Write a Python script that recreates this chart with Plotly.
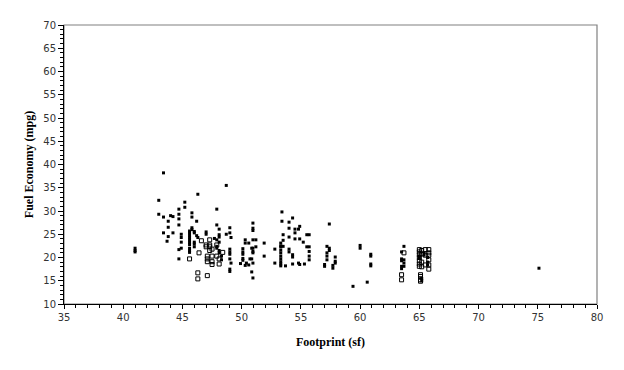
import plotly.graph_objects as go

# Filled markers (black squares)
filled_x = [41.0, 41.0, 41.0,
            43.0, 43.0,
            43.4, 43.4, 43.4,
            43.8, 43.8, 43.8, 43.7,
            44.0, 44.2, 44.2,
            44.7, 44.7, 44.7, 44.7, 44.7, 44.7,
            44.9, 44.9, 44.9, 44.9,
            45.2, 45.2,
            45.6, 45.6, 45.6, 45.6, 45.6, 45.6, 45.6, 45.6, 45.6, 45.6,
            45.8, 45.8, 45.8, 45.8,
            46.0, 46.0, 46.0, 46.0, 46.0,
            46.2, 46.2, 46.3, 46.3,
            47.0, 47.0,
            47.9, 47.9, 47.9, 47.9, 47.9,
            48.1, 48.1, 48.1, 48.1, 48.1, 48.1,
            47.7, 48.3, 48.3,
            48.7, 48.7,
            49.0, 49.0, 49.0, 49.0, 49.0, 49.0, 49.0, 49.0,
            49.1, 49.1,
            49.9,
            50.1, 50.1, 50.1, 50.1, 50.1,
            50.3, 50.3, 50.3,
            50.4,
            50.6, 50.6,
            50.7,
            50.85, 50.85, 50.85,
            50.95, 50.95, 50.95, 50.95, 50.95, 50.95, 50.95, 50.95, 50.95,
            51.2, 51.2,
            51.9, 51.9,
            52.8, 52.8,
            53.3, 53.3, 53.3, 53.3, 53.3, 53.3, 53.3, 53.3, 53.3, 53.3,
            53.4, 53.4,
            53.5, 53.5, 53.5,
            53.7,
            54.0, 54.0, 54.0, 54.0, 54.0,
            54.3, 54.3, 54.3, 54.3,
            54.5, 54.5, 54.5,
            54.8, 54.8,
            54.9, 54.9, 54.9,
            55.2, 55.3,
            55.5, 55.5,
            55.7, 55.7, 55.7, 55.7, 55.7,
            57.0, 57.0,
            57.2, 57.2, 57.2, 57.2,
            57.4, 57.4, 57.4,
            57.7, 57.7,
            57.9, 57.9, 57.9,
            59.4,
            60.0, 60.0,
            60.6,
            60.9, 60.9, 60.9, 60.9,
            63.5, 63.5, 63.5, 63.5, 63.5,
            63.7, 63.7, 63.7, 63.7,
            65.0, 65.0,
            65.2, 65.2,
            65.4, 65.4,
            65.7, 65.7, 65.7,
            75.1]
filled_y = [22.0, 21.5, 21.2,
            32.3, 29.3,
            38.2, 28.7, 25.3,
            27.8, 26.5, 24.5, 23.5,
            29.0, 28.8, 25.3,
            30.4, 29.3, 28.3, 27.0, 21.7, 19.7,
            25.0, 24.3, 23.3, 22.0,
            31.9, 30.8,
            25.7, 25.3, 24.8, 24.3, 23.8, 23.3, 22.8, 22.0, 21.5, 21.1,
            29.6, 28.7, 26.4, 26.0,
            25.6, 25.3, 23.3, 22.9, 22.3,
            24.7, 27.8, 24.3, 33.6,
            25.5, 25.0,
            30.4, 27.0, 23.8, 22.4, 22.0,
            26.1, 24.9, 24.4, 23.3, 21.5, 21.0,
            24.1, 20.3, 19.5,
            35.5, 25.0,
            26.4, 25.3, 21.8, 21.2, 20.7, 19.7, 17.5, 17.0,
            24.3, 18.8,
            18.7,
            21.9, 21.2, 20.7, 19.8, 19.4,
            23.8, 23.1, 18.3,
            18.8,
            23.1, 18.4,
            19.7,
            16.9, 19.7, 22.0,
            27.4, 26.3, 25.8, 23.8, 22.0, 21.3, 21.0, 18.8, 15.6,
            23.8, 22.3,
            23.1, 20.3,
            21.8, 18.8,
            23.1, 22.5, 22.3, 21.6, 21.0, 20.3, 19.7, 19.1, 18.6, 18.2,
            29.8, 27.8,
            24.9, 23.7, 22.4,
            18.2,
            27.6, 26.3, 24.4, 21.8, 21.2,
            28.5, 20.6, 20.1, 18.6,
            26.1, 25.3, 24.0,
            26.1, 18.8,
            26.7, 24.0, 18.5,
            23.3, 18.6,
            24.9, 22.3,
            24.9, 22.3, 21.3, 20.3, 19.5,
            18.5, 18.1,
            22.4, 21.0, 20.3, 19.5,
            27.2, 22.0, 21.5,
            18.3, 17.7,
            20.1, 19.2, 18.8,
            13.8,
            22.6, 22.0,
            14.7,
            20.7, 20.3, 18.6, 18.2,
            21.2, 19.7, 19.3, 18.1, 17.6,
            22.4, 19.5, 18.8, 18.1,
            20.3, 20.0,
            15.5, 15.0,
            20.5, 21.0,
            19.0, 18.4, 20.0,
            17.7]

# Hollow markers (open squares)
hollow_x = [45.6,
            46.3, 46.3, 46.4, 46.6,
            47.0, 47.0,
            47.1, 47.1, 47.1, 47.1,
            47.3, 47.3, 47.3, 47.3,
            47.5, 47.5, 47.5, 47.5,
            47.9, 47.9,
            48.1, 48.1,
            48.4,
            63.5, 63.5, 63.7,
            65.0, 65.0, 65.0, 65.0, 65.0, 65.0, 65.0,
            65.1, 65.1, 65.1, 65.1,
            65.2, 65.2, 65.2, 65.2,
            65.5, 65.5, 65.5,
            65.8, 65.8, 65.8, 65.8, 65.8, 65.8]
hollow_y = [19.7,
            16.7, 15.4, 21.0, 23.6,
            22.7, 22.3,
            16.1, 20.3, 19.7, 19.1,
            23.8, 22.7, 22.3, 21.5,
            21.8, 20.3, 19.1, 18.5,
            22.7, 20.3,
            19.7, 18.6,
            21.1,
            16.3, 15.2, 21.0,
            21.7, 21.2, 20.6, 20.0, 19.3, 18.6, 18.1,
            16.3, 15.9, 15.2, 14.9,
            21.5, 20.8, 18.0, 19.0,
            21.7, 20.5, 18.4,
            21.7, 21.0, 20.5, 19.5, 18.4, 17.5]

x_title = "Footprint (sf)"
y_title = "Fuel Economy (mpg)"

fig = go.Figure()
fig.add_trace(go.Scatter(x=filled_x, y=filled_y, mode="markers",
                         marker=dict(symbol="square", size=3, color="black",
                                     line=dict(width=0)),
                         showlegend=False))
fig.add_trace(go.Scatter(x=hollow_x, y=hollow_y, mode="markers",
                         marker=dict(symbol="square-open", size=4, color="black",
                                     line=dict(width=1)),
                         showlegend=False))

tickfont = dict(family="DejaVu Sans", size=10, color="#333333")
titlefont = dict(family="Liberation Serif", size=12, color="black", weight="bold")

fig.update_layout(
    width=624, height=370,
    margin=dict(l=56, r=35, t=17, b=74),
    paper_bgcolor="white", plot_bgcolor="white",
    shapes=[dict(type="rect", xref="paper", yref="paper", x0=0, y0=0, x1=1, y1=1,
                 line=dict(color="#808080", width=1.2), layer="below")],
)
fig.update_xaxes(range=[35, 80], dtick=5, tick0=35, showgrid=False, zeroline=False,
                 showline=True, linecolor="black", linewidth=1, automargin=False,
                 ticks="outside", ticklen=4, tickcolor="black", tickwidth=1,
                 minor=dict(dtick=1, ticks="outside", ticklen=3, tickcolor="black", showgrid=False),
                 tickfont=tickfont,
                 title=dict(text=x_title, font=titlefont, standoff=15))
fig.update_yaxes(range=[10, 70], dtick=5, tick0=10, showgrid=False, zeroline=False,
                 showline=True, linecolor="black", linewidth=1, automargin=False,
                 ticks="outside", ticklen=5, tickcolor="black", tickwidth=1,
                 minor=dict(dtick=1, ticks="outside", ticklen=3, tickcolor="black", showgrid=False),
                 tickfont=tickfont,
                 title=dict(text=y_title, font=titlefont, standoff=7))

fig.write_html("out.html")
